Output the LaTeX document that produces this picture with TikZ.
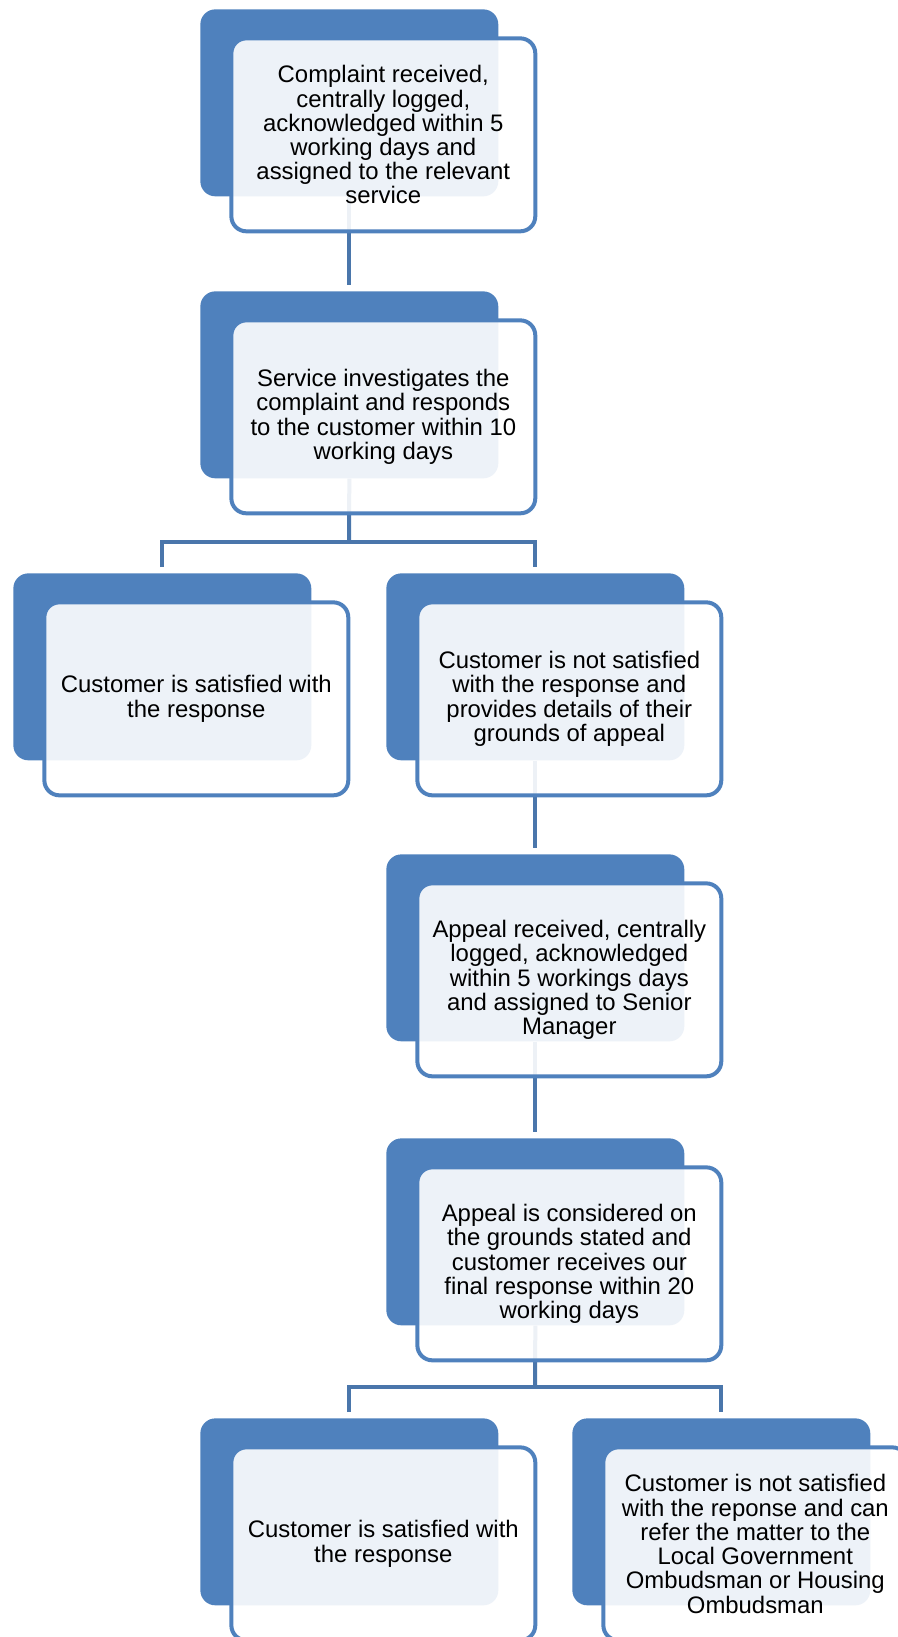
\documentclass[tikz,border=0pt]{standalone}
\usepackage{fontspec}
\setmainfont{Liberation Sans}
\usepackage{xcolor}
\definecolor{boxblue}{HTML}{4F81BD}
\definecolor{linkblue}{HTML}{4A76AB}
\pgfdeclarelayer{bg}
\pgfsetlayers{bg,main}

\begin{document}
\begin{tikzpicture}[x=0.02cm, y=-0.02cm,
    back/.style={rectangle, rounded corners=0.3cm, fill=boxblue, anchor=north west,
      minimum width=5.96cm, minimum height=3.74cm, inner sep=0pt},
    front/.style={rectangle, rounded corners=0.3cm, draw=boxblue, line width=0.08cm,
      fill=white, fill opacity=0.9, text opacity=1, minimum width=6.08cm,
      minimum height=3.86cm, inner sep=0pt, align=center,
      font=\fontsize{13.6}{13.8}\selectfont},
    link/.style={draw=linkblue, line width=0.08cm}]
  \useasboundingbox (0,0) rectangle (898,1637);
  % dark back boxes
  \node[back] (b1) at (200,9) {};
  \node[back] (b2) at (200,291) {};
  \node[back] (b3l) at (13,573) {};
  \node[back] (b3r) at (386,573) {};
  \node[back] (b4) at (386,854) {};
  \node[back] (b5) at (386,1138) {};
  \node[back] (b6l) at (200,1418) {};
  \node[back] (b6r) at (572,1418) {};
  % connectors behind the boxes
  \begin{pgfonlayer}{bg}
    \draw[link, shorten >=0.12cm] (b1.south) -- (b2.north);
    \coordinate (j2) at (349,542);
    \draw[link] (b2.south) -- (j2);
    \draw[link, shorten <=0.12cm, shorten >=0.12cm] (b3l.north) |- (j2) -| (b3r.north);
    \draw[link, shorten >=0.12cm] (b3r.south) -- (b4.north);
    \draw[link, shorten >=0.12cm] (b4.south) -- (b5.north);
    \coordinate (j5) at (535,1387);
    \draw[link] (b5.south) -- (j5);
    \draw[link, shorten <=0.12cm, shorten >=0.12cm] (b6l.north) |- (j5) -| (b6r.north);
  \end{pgfonlayer}
  % front boxes with the text
  \node[front] (f1) at ([shift={(34,32)}]b1.center) {Complaint received,\\ centrally logged,\\ acknowledged within 5\\ working days and\\ assigned to the relevant\\ service};
  \node[front] (f2) at ([shift={(34,32)}]b2.center) {Service investigates the\\ complaint and responds\\ to the customer within 10\\ working days};
  \node[front] (f3l) at ([shift={(34,32)}]b3l.center) {Customer is satisfied with\\ the response};
  \node[front] (f3r) at ([shift={(34,32)}]b3r.center) {Customer is not satisfied\\ with the response and\\ provides details of their\\ grounds of appeal};
  \node[front] (f4) at ([shift={(34,32)}]b4.center) {Appeal received, centrally\\ logged, acknowledged\\ within 5 workings days\\ and assigned to Senior\\ Manager};
  \node[front] (f5) at ([shift={(34,32)}]b5.center) {Appeal is considered on\\ the grounds stated and\\ customer receives our\\ final response within 20\\ working days};
  \node[front] (f6l) at ([shift={(34,32)}]b6l.center) {Customer is satisfied with\\ the response};
  \node[front] (f6r) at ([shift={(34,32)}]b6r.center) {Customer is not satisfied\\ with the reponse and can\\ refer the matter to the\\ Local Government\\ Ombudsman or Housing\\ Ombudsman};
\end{tikzpicture}
\end{document}
